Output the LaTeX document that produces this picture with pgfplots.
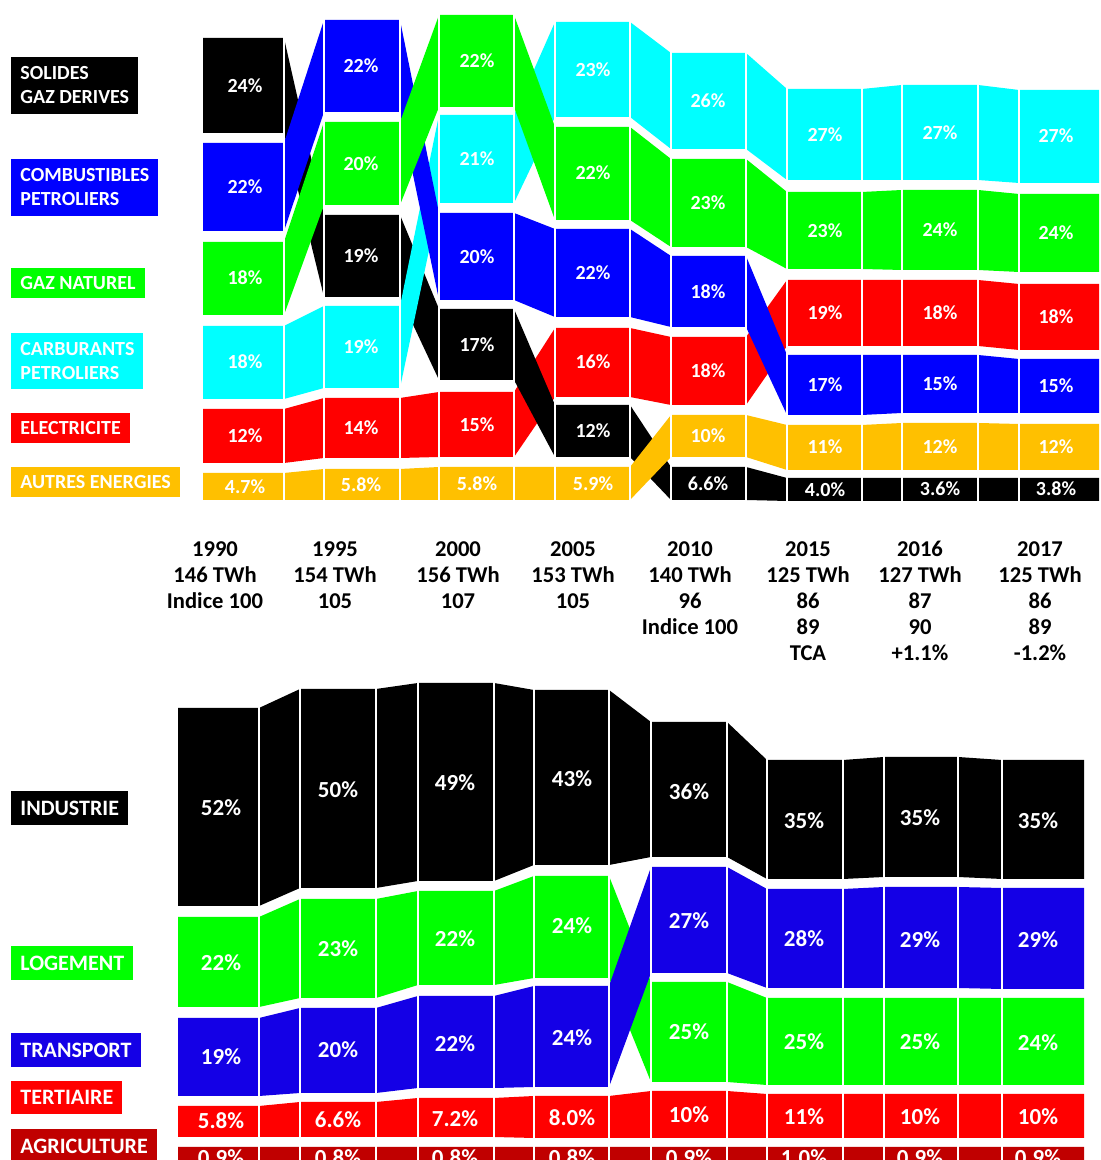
\documentclass[border=0pt]{standalone}
\usepackage{fontspec}
\setmainfont{Carlito}
\usepackage{pgfplots}
\usepackage{pgfplotstable}
\pgfplotsset{compat=1.18}
\usepgfplotslibrary{fillbetween}

\definecolor{sol}{HTML}{000000}
\definecolor{comb}{HTML}{0000FF}
\definecolor{gaz}{HTML}{00FF00}
\definecolor{carb}{HTML}{00FFFF}
\definecolor{elec}{HTML}{FF0000}
\definecolor{autre}{HTML}{FFC000}
\definecolor{trans}{HTML}{1400E6}
\definecolor{agri}{HTML}{C00000}

% energies: band limits (px from top), one row per column edge
\pgfplotstableread{
x    Stop Sbot Ptop Pbot Gtop Gbot Ctop Cbot Etop Ebot Atop Abot
203  38   133  143  231  242  315  326  399  409  463  473  500
284  38   133  143  231  242  315  326  399  409  463  473  500
324  215  297  20   112  122  205  306  388  398  458  469  500
400  215  297  20   112  122  205  306  388  398  458  469  500
439  309  380  213  300  15   107  115  203  392  457  467  500
514  309  380  213  300  15   107  115  203  392  457  467  500
555  405  457  229  317  127  220  22   117  328  397  467  500
630  405  457  229  317  127  220  22   117  328  397  467  500
671  467  500  256  327  159  247  53   149  337  405  415  457
746  467  500  256  327  159  247  53   149  337  405  415  457
787  478  501  355  415  192  269  89   180  280  346  425  470
862  478  501  355  415  192  269  89   180  280  346  425  470
902  478  501  355  413  190  270  85   180  280  346  423  470
978  478  501  355  413  190  270  85   180  280  346  423  470
1019 478  501  359  413  194  272  90   183  284  350  424  470
1099 478  501  359  413  194  272  90   183  284  350  424  470
}\energie

% sectors
\pgfplotstableread{
x    Itop Ibot Ltop Lbot Ttop Tbot Rtop Rbot Ktop Kbot
178  708  906  917  1007 1018 1096 1106 1137 1147 1175
259  708  906  917  1007 1018 1096 1106 1137 1147 1175
300  689  888  899  998  1008 1093 1102 1137 1147 1175
376  689  888  899  998  1008 1093 1102 1137 1147 1175
418  683  881  891  985  996  1088 1098 1137 1147 1175
494  683  881  891  985  996  1088 1098 1137 1147 1175
534  690  865  876  978  986  1087 1096 1138 1147 1175
609  690  865  876  978  986  1087 1096 1138 1147 1175
651  722  857  982  1082 867  973  1091 1138 1147 1175
727  722  857  982  1082 867  973  1091 1138 1147 1175
767  760  879  998  1085 889  988  1094 1138 1147 1175
843  760  879  998  1085 889  988  1094 1138 1147 1175
884  757  877  998  1085 887  988  1094 1138 1147 1175
958  757  877  998  1085 887  988  1094 1138 1147 1175
1002 760  879  998  1085 888  989  1094 1138 1147 1175
1084 760  879  998  1085 888  989  1094 1138 1147 1175
}\secteurs

\newcommand\band[4]{%
  \addplot[draw=none, forget plot, name path=#2] table[x=x, y=#2] {#1};
  \addplot[draw=none, forget plot, name path=#3] table[x=x, y=#3] {#1};
  \addplot[fill=#4, draw=none, forget plot] fill between[of=#2 and #3];
}
\newcommand\pc[3]{\node[font=\bfseries\fontsize{10}{12}\selectfont, text=white] at (axis cs:#1,#2) {#3};}
\newcommand\pb[3]{\node[font=\bfseries\fontsize{11.5}{13}\selectfont, text=white] at (axis cs:#1,#2) {#3};}
\newcommand\lab[5]{\node[anchor=west, fill=#1, text=white, align=left, inner xsep=4.5pt,
  inner ysep=0pt, minimum height=#4, font=\bfseries\fontsize{#5}{12}\selectfont] at (axis cs:11,#2) {#3};}
\newcommand\yr[2]{\node[anchor=north, inner sep=0pt, align=center,
  font=\bfseries\fontsize{11.3}{13}\selectfont] at (axis cs:#1,541) {#2};}

\begin{document}
\begin{tikzpicture}
\begin{axis}[
  scale only axis, width=550pt, height=580pt,
  xmin=0, xmax=1100, ymin=0, ymax=1160, y dir=reverse,
  hide axis, clip=true,
]
% top panel, drawing order sets which ribbon lies on top
\band{\energie}{Etop}{Ebot}{elec}
\band{\energie}{Stop}{Sbot}{sol}
\band{\energie}{Ctop}{Cbot}{carb}
\band{\energie}{Ptop}{Pbot}{comb}
\band{\energie}{Atop}{Abot}{autre}
\band{\energie}{Gtop}{Gbot}{gaz}
% bottom panel
\band{\secteurs}{Itop}{Ibot}{sol}
\band{\secteurs}{Rtop}{Rbot}{elec}
\band{\secteurs}{Ktop}{Kbot}{agri}
\band{\secteurs}{Ltop}{Lbot}{gaz}
\band{\secteurs}{Ttop}{Tbot}{trans}

% white separators at column edges
\addplot[white, line width=1pt, forget plot, unbounded coords=jump] coordinates {
 (284,0)(284,510)(284,nan) (324,0)(324,510)(324,nan) (400,0)(400,510)(400,nan)
 (439,0)(439,510)(439,nan) (514,0)(514,510)(514,nan) (555,0)(555,510)(555,nan)
 (630,0)(630,510)(630,nan) (671,0)(671,510)(671,nan) (746,0)(746,510)(746,nan)
 (787,0)(787,510)(787,nan) (862,0)(862,510)(862,nan) (902,0)(902,510)(902,nan)
 (978,0)(978,510)(978,nan) (1019,0)(1019,510)(1019,nan)
 (259,670)(259,1170)(259,nan) (300,670)(300,1170)(300,nan) (376,670)(376,1170)(376,nan)
 (418,670)(418,1170)(418,nan) (494,670)(494,1170)(494,nan) (534,670)(534,1170)(534,nan)
 (609,670)(609,1170)(609,nan) (651,670)(651,1170)(651,nan) (727,670)(727,1170)(727,nan)
 (767,670)(767,1170)(767,nan) (843,670)(843,1170)(843,nan) (884,670)(884,1170)(884,nan)
 (958,670)(958,1170)(958,nan) (1002,670)(1002,1170)(1002,nan)
};

% shares, top panel
\pc{245}{86}{24\%}  \pc{245}{187}{22\%} \pc{245}{278}{18\%} \pc{245}{362}{18\%} \pc{245}{436}{12\%} \pc{245}{487}{4.7\%}
\pc{361}{66}{22\%}  \pc{361}{164}{20\%} \pc{361}{256}{19\%} \pc{361}{347}{19\%} \pc{361}{428}{14\%} \pc{361}{485}{5.8\%}
\pc{477}{61}{22\%}  \pc{477}{159}{21\%} \pc{477}{257}{20\%} \pc{477}{345}{17\%} \pc{477}{425}{15\%} \pc{477}{484}{5.8\%}
\pc{593}{70}{23\%}  \pc{593}{173}{22\%} \pc{593}{273}{22\%} \pc{593}{362}{16\%} \pc{593}{431}{12\%} \pc{593}{484}{5.9\%}
\pc{708}{101}{26\%} \pc{708}{203}{23\%} \pc{708}{292}{18\%} \pc{708}{371}{18\%} \pc{708}{436}{10\%} \pc{708}{484}{6.6\%}
\pc{825}{135}{27\%} \pc{825}{231}{23\%} \pc{825}{313}{19\%} \pc{825}{385}{17\%} \pc{825}{447}{11\%} \pc{825}{490}{4.0\%}
\pc{940}{133}{27\%} \pc{940}{230}{24\%} \pc{940}{313}{18\%} \pc{940}{384}{15\%} \pc{940}{447}{12\%} \pc{940}{489}{3.6\%}
\pc{1056}{136}{27\%} \pc{1056}{233}{24\%} \pc{1056}{317}{18\%} \pc{1056}{386}{15\%} \pc{1056}{447}{12\%} \pc{1056}{489}{3.8\%}

% shares, bottom panel (last row is cut by the lower edge, as in the source)
\pb{221}{808}{52\%} \pb{221}{963}{22\%} \pb{221}{1057}{19\%} \pb{221}{1121}{5.8\%} \pb{221}{1158}{0.9\%}
\pb{338}{790}{50\%} \pb{338}{949}{23\%} \pb{338}{1050}{20\%} \pb{338}{1120}{6.6\%} \pb{338}{1158}{0.8\%}
\pb{455}{783}{49\%} \pb{455}{939}{22\%} \pb{455}{1044}{22\%} \pb{455}{1119}{7.2\%} \pb{455}{1158}{0.8\%}
\pb{572}{779}{43\%} \pb{572}{926}{24\%} \pb{572}{1038}{24\%} \pb{572}{1118}{8.0\%} \pb{572}{1158}{0.8\%}
\pb{689}{792}{36\%} \pb{689}{921}{27\%} \pb{689}{1032}{25\%} \pb{689}{1115}{10\%} \pb{689}{1158}{0.9\%}
\pb{804}{821}{35\%} \pb{804}{939}{28\%} \pb{804}{1042}{25\%} \pb{804}{1117}{11\%} \pb{804}{1158}{1.0\%}
\pb{920}{818}{35\%} \pb{920}{940}{29\%} \pb{920}{1042}{25\%} \pb{920}{1117}{10\%} \pb{920}{1158}{0.9\%}
\pb{1038}{821}{35\%} \pb{1038}{940}{29\%} \pb{1038}{1043}{24\%} \pb{1038}{1117}{10\%} \pb{1038}{1158}{0.9\%}

% category labels
\lab{sol}{85.5}{SOLIDES\\GAZ DERIVES}{28.5pt}{10}
\lab{comb}{187.5}{COMBUSTIBLES\\PETROLIERS}{28.5pt}{10}
\lab{gaz}{283}{GAZ NATUREL}{15pt}{10}
\lab{carb}{361}{CARBURANTS\\PETROLIERS}{28pt}{10}
\lab{elec}{428}{ELECTRICITE}{15pt}{10}
\lab{autre}{482}{AUTRES ENERGIES}{15pt}{10}
\lab{sol}{808}{INDUSTRIE}{17pt}{11}
\lab{gaz}{963}{LOGEMENT}{17pt}{11}
\lab{trans}{1050}{TRANSPORT}{17pt}{11}
\lab{elec}{1097.5}{TERTIAIRE}{16.5pt}{11}
\lab{agri}{1146}{AGRICULTURE}{17pt}{11}

% years, totals, indices
\yr{215}{1990\\146 TWh\\Indice 100}
\yr{335}{1995\\154 TWh\\105}
\yr{458}{2000\\156 TWh\\107}
\yr{573}{2005\\153 TWh\\105}
\yr{690}{2010\\140 TWh\\96\\Indice 100}
\yr{808}{2015\\125 TWh\\86\\89\\TCA}
\yr{920}{2016\\127 TWh\\87\\90\\+1.1\%}
\yr{1040}{2017\\125 TWh\\86\\89\\-1.2\%}

\coordinate (SW) at (rel axis cs:0,0);
\coordinate (NE) at (rel axis cs:1,1);
\end{axis}
\pgfresetboundingbox
\useasboundingbox (SW) rectangle (NE);
\end{tikzpicture}
\end{document}
